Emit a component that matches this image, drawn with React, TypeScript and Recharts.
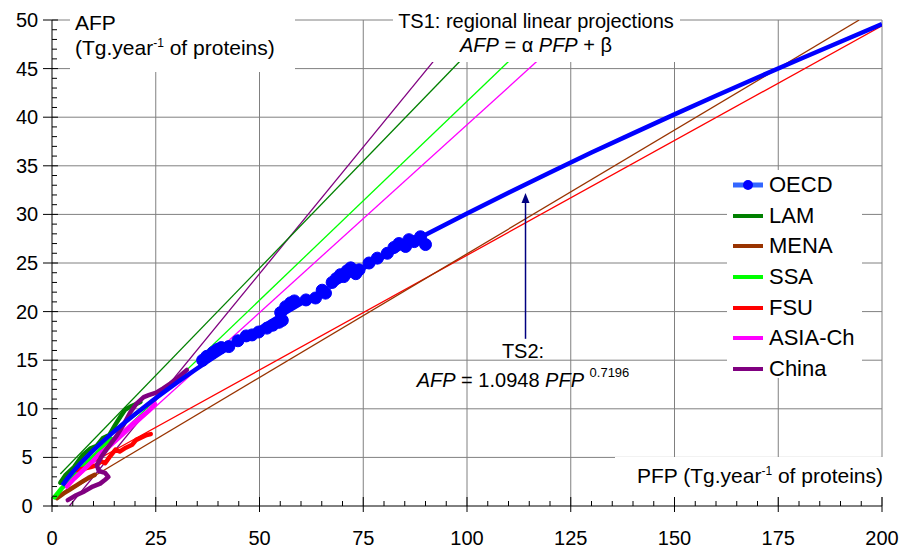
import { CartesianGrid, ComposedChart, Line, ReferenceDot, ReferenceLine, XAxis, YAxis } from "recharts";

const FONT = "Arial, 'Liberation Sans', Helvetica, sans-serif";
const W = 903;
const H = 552;

// majors get a label and a crossing mark, minors only a short inside mark
const X_MAJOR = [0, 25, 50, 75, 100, 125, 150, 175, 200];
const Y_MAJOR = [0, 5, 10, 15, 20, 25, 30, 35, 40, 45, 50];
const X_TICKS = Array.from({ length: 41 }, (_, i) => i * 5);
const Y_TICKS = Array.from({ length: 51 }, (_, i) => i);

// observed regional trajectories, [PFP, AFP]
const OECD = [
  [36.3, 15.0], [37.3, 15.4], [38.8, 15.8], [39.8, 16.1], [40.8, 16.3], [42.6, 16.4], [44.8, 17.0],
  [46.8, 17.5], [48.2, 17.6], [49.8, 17.9], [51.8, 18.3], [53.2, 18.6], [54.7, 18.9], [55.5, 19.1],
  [55.1, 19.9], [56.3, 20.5], [57.5, 20.9], [58.4, 21.1], [61.2, 21.2], [63.5, 21.4], [65.1, 22.2],
  [65.9, 21.9], [67.5, 23.0], [68.5, 23.4], [69.5, 23.8], [70.3, 23.6], [71.1, 24.2], [72.0, 24.5],
  [73.2, 23.9], [74.0, 24.3], [76.4, 25.0], [78.4, 25.5], [80.8, 26.0], [82.4, 26.6], [83.6, 27.0],
  [85.2, 26.7], [86.0, 27.4], [87.3, 27.2], [88.8, 27.7], [90.0, 26.9],
];
const LAM = [
  [2.0, 2.4], [3.3, 3.2], [5.3, 4.0], [7.3, 5.2], [9.2, 5.9], [10.8, 6.2], [12.3, 7.0],
  [13.8, 7.3], [15.3, 8.4], [16.5, 9.2], [17.6, 9.9], [18.8, 10.2], [20.3, 10.5], [21.3, 10.7],
];
const MENA = [[1.2, 0.8], [2.8, 1.3], [4.3, 1.7], [5.8, 2.1], [7.3, 2.5], [8.8, 2.9], [10.3, 3.2]];
const SSA = [[0.6, 0.9], [2.3, 1.8], [4.3, 2.7], [6.3, 3.5], [8.3, 4.4], [10.3, 5.2], [12.3, 6.1], [14.3, 6.9]];
const FSU = [
  [5.8, 3.7], [7.3, 3.8], [9.3, 4.0], [10.8, 4.2], [11.8, 4.6], [12.8, 4.4], [13.8, 5.0], [15.3, 5.8],
  [16.3, 5.6], [17.8, 6.0], [19.3, 6.3], [20.3, 6.8], [21.3, 7.0], [22.8, 7.3], [23.8, 7.4],
];
const ASIA_CH = [
  [3.6, 2.0], [5.3, 2.8], [7.3, 3.6], [9.3, 4.4], [11.3, 5.3], [13.3, 6.0], [15.3, 6.8],
  [17.3, 7.6], [19.3, 8.4], [21.3, 9.1], [23.3, 9.8], [24.8, 10.5],
];
const CHINA = [
  [3.8, 0.6], [5.8, 1.1], [7.8, 1.5], [9.8, 2.0], [11.6, 2.3], [12.8, 2.7], [13.6, 3.0], [12.8, 3.4],
  [11.3, 3.6], [10.8, 4.2], [11.8, 5.0], [13.1, 5.8], [14.3, 6.5], [15.7, 7.3], [17.3, 8.4], [18.8, 9.6],
  [20.3, 10.5], [22.1, 11.2], [23.3, 11.4], [25.3, 11.7], [26.8, 12.1], [28.5, 12.6], [30.3, 13.2], [32.5, 14.0],
];

// TS1 projections: start and end of each straight line
const LAM_TS1 = [[2.0, 3.3], [98.4, 45.8]];
const CHINA_TS1 = [[4.2, 0], [92.0, 45.8]];
const SSA_TS1 = [[0.7, 1.0], [110.2, 45.8]];
const ASIA_TS1 = [[3.7, 2.0], [117.0, 45.8]];
const FSU_TS1 = [[6.4, 3.7], [200, 49.4]];
const MENA_TS1 = [[1.2, 0.8], [194.5, 50]];

// TS2 curve
const TS2_PFP = [2.5, 5, 10, 15, 20, 30, 40, 50, 60, 70, 80, 90, 100, 110, 120, 130, 140, 150, 160, 170, 180, 190, 200];
const TS2_AFP = [
  2.12, 3.49, 5.74, 7.68, 9.45, 12.66, 15.57, 18.28, 20.84, 23.28, 25.63, 27.9, 30.1, 32.23, 34.32,
  36.36, 38.34, 40.29, 42.2, 44.09, 45.94, 47.76, 49.57,
];

const LEGEND = [
  { name: "OECD", color: "#3366ff", dot: "#0000ff" },
  { name: "LAM", color: "#008000" },
  { name: "MENA", color: "#993300" },
  { name: "SSA", color: "#00ff00" },
  { name: "FSU", color: "#ff0000" },
  { name: "ASIA-Ch", color: "#ff00ff" },
  { name: "China", color: "#800080" },
];

const pts = (rows: number[][]) => rows.map(([x, y]) => ({ x, y }));
const ts2 = TS2_PFP.map((x, i) => ({ x, y: TS2_AFP[i] }));

function XTick({ x, y, payload }: any) {
  const v = payload.value;
  const major = X_MAJOR.includes(v);
  return (
    <g>
      <line x1={x} x2={x} y1={major ? y - 9 : y - 5} y2={major ? y + 6 : y} stroke="#000" />
      {major && (
        <text x={x} y={y + 39} textAnchor="middle" fontSize={20} fontFamily={FONT} fill="#000">
          {v}
        </text>
      )}
    </g>
  );
}

function YTick({ x, y, payload }: any) {
  const v = payload.value;
  const major = Y_MAJOR.includes(v);
  return (
    <g>
      <line x1={major ? x - 9 : x} x2={major ? x + 6 : x + 5} y1={y} y2={y} stroke="#000" />
      {major && (
        <text x={x - 25} y={y + 7} textAnchor="middle" fontSize={20} fontFamily={FONT} fill="#000">
          {v}
        </text>
      )}
    </g>
  );
}

const thin = (data: number[][], color: string) => (
  <Line data={pts(data)} dataKey="y" type="linear" stroke={color} strokeWidth={1.3} dot={false} activeDot={false} isAnimationActive={false} />
);
const thick = (data: number[][], color: string) => (
  <Line data={pts(data)} dataKey="y" type="linear" stroke={color} strokeWidth={4.5} strokeLinejoin="round" strokeLinecap="round" dot={false} activeDot={false} isAnimationActive={false} />
);

const box = (left: number, top: number, width: number, height: number) => (
  <div style={{ position: "absolute", left, top, width, height, background: "#fff" }} />
);

function Txt({ left, top, width, size, align, children }: any) {
  return (
    <div
      style={{
        position: "absolute",
        left,
        top,
        width,
        fontSize: size,
        lineHeight: `${size}px`,
        textAlign: align ?? "left",
        fontFamily: FONT,
        color: "#000",
        whiteSpace: "nowrap",
      }}
    >
      {children}
    </div>
  );
}

const sup = (text: string, size: number, raise: number) => (
  <span style={{ fontSize: size, position: "relative", top: -raise }}>{text}</span>
);

export default function App() {
  return (
    <div style={{ position: "absolute", left: 0, top: 0, width: W, height: H, background: "#fff" }}>
      <ComposedChart width={W} height={H} margin={{ top: 20, right: 21, bottom: 0, left: 0 }}>
        <CartesianGrid
          stroke="#808080"
          horizontalValues={Y_MAJOR.slice(1)}
          verticalValues={X_MAJOR.slice(1)}
        />
        <XAxis
          type="number"
          dataKey="x"
          domain={[0, 200]}
          allowDataOverflow
          ticks={X_TICKS}
          interval={0}
          height={46}
          tickLine={false}
          tickSize={0}
          tickMargin={0}
          tick={<XTick />}
          axisLine={{ stroke: "#000" }}
        />
        <YAxis
          type="number"
          dataKey="y"
          domain={[0, 50]}
          allowDataOverflow
          ticks={Y_TICKS}
          interval={0}
          width={52}
          tickLine={false}
          tickSize={0}
          tickMargin={0}
          tick={<YTick />}
          axisLine={{ stroke: "#000" }}
        />
        {thin(CHINA_TS1, "#800080")}
        {thin(LAM_TS1, "#008000")}
        {thin(SSA_TS1, "#00ff00")}
        {thin(ASIA_TS1, "#ff00ff")}
        {thin(FSU_TS1, "#ff0000")}
        {thin(MENA_TS1, "#993300")}
        {thick(MENA, "#993300")}
        {thick(SSA, "#00ff00")}
        {thick(FSU, "#ff0000")}
        {thick(LAM, "#008000")}
        {thick(ASIA_CH, "#ff00ff")}
        {thick(CHINA, "#800080")}
        <Line data={ts2} dataKey="y" type="natural" stroke="#0000ff" strokeWidth={4.5} dot={false} activeDot={false} isAnimationActive={false} />
        <Line
          data={pts(OECD)}
          dataKey="y"
          type="linear"
          stroke="#3366ff"
          strokeWidth={4}
          dot={{ r: 6, fill: "#0000ff", stroke: "#0000ff", strokeWidth: 1 }}
          activeDot={false}
          isAnimationActive={false}
        />
        <ReferenceLine segment={[{ x: 114.1, y: 17.2 }, { x: 114.1, y: 31.4 }]} stroke="#000080" strokeWidth={1.5} />
        <ReferenceDot
          x={114.1}
          y={32.2}
          shape={(p: any) => <path d={`M${p.cx},${p.cy} l-4,10 l8,0 z`} fill="#000080" />}
        />
      </ComposedChart>

      {/* white label boxes that hide the grid behind them */}
      {box(70, 0, 225, 72)}
      {box(393, 0, 287, 62)}
      {box(615, 457, 269, 40)}
      {box(727, 170, 135, 208)}

      <Txt left={75} top={12} size={21}>AFP</Txt>
      <Txt left={75} top={37} size={21}>
        (Tg.year{sup("-1", 12, 8)} of proteins)
      </Txt>

      <Txt left={386} top={11} width={300} size={20} align="center">
        TS1: regional linear projections
      </Txt>
      <Txt left={386} top={35} width={300} size={20} align="center">
        <i>AFP</i> = α <i>PFP</i> + β
      </Txt>

      <Txt left={373} top={341} width={300} size={20} align="center">
        TS2:
      </Txt>
      <Txt left={373} top={370} width={300} size={20} align="center">
        <i>AFP</i> = 1.0948 <i>PFP</i> {sup("0.7196", 13, 10)}
      </Txt>

      <Txt left={500} top={465} width={383} size={21} align="right">
        PFP (Tg.year{sup("-1", 12, 8)} of proteins)
      </Txt>

      <div style={{ position: "absolute", left: 727, top: 170, width: 135 }}>
        {LEGEND.map((item) => (
          <div key={item.name} style={{ display: "flex", alignItems: "center", height: 30.6, fontFamily: FONT, fontSize: 22 }}>
            <svg width={36} height={12} style={{ marginLeft: 6 }}>
              <line x1={0} x2={30} y1={6} y2={6} stroke={item.color} strokeWidth={item.dot ? 5 : 4} />
              {item.dot && <circle cx={15} cy={6} r={5} fill={item.dot} />}
            </svg>
            <span style={{ lineHeight: "30px" }}>{item.name}</span>
          </div>
        ))}
      </div>
    </div>
  );
}
